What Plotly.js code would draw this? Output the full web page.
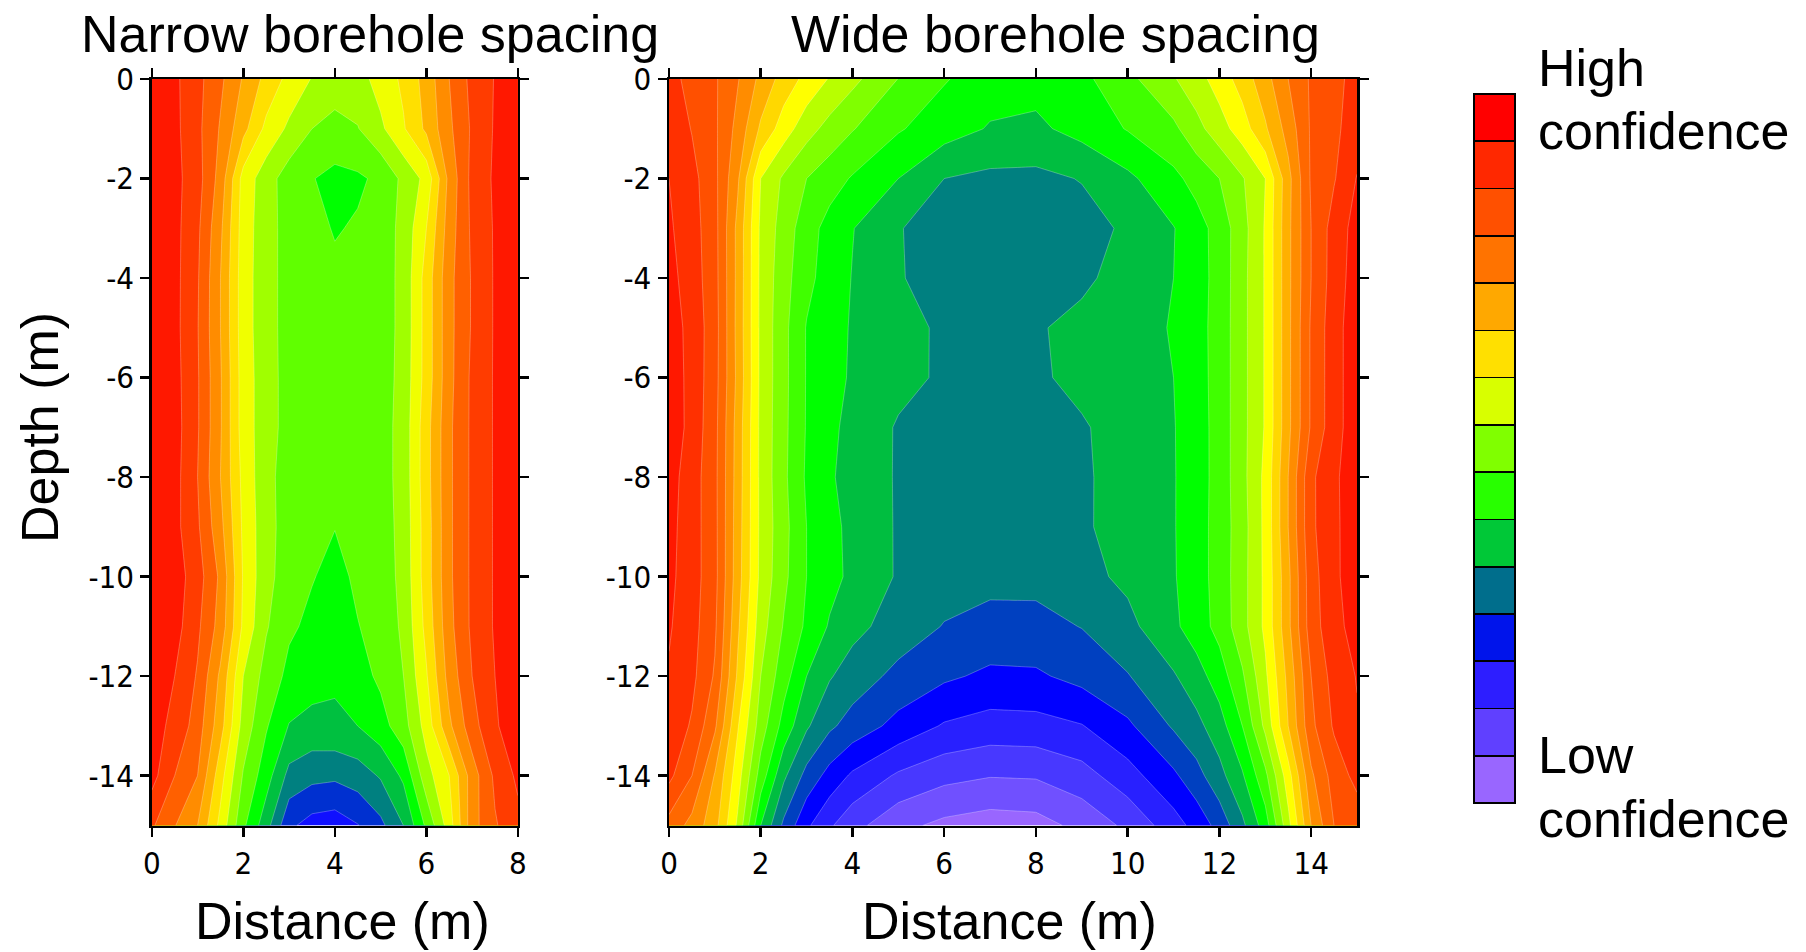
<!DOCTYPE html>
<html>
<head>
<meta charset="utf-8">
<script src="https://cdn.plot.ly/plotly-3.0.1.min.js"></script>
<style>
  html, body { margin: 0; padding: 0; background: #ffffff; }
  #chart { width: 1806px; height: 952px; }
</style>
</head>
<body>
<div id="chart"></div>
<script>
// ---------------- DATA ----------------
// Depth rows (m), shared by both panels
const depths = [0, -1, -2, -3, -4, -5, -6, -7, -8, -9, -10, -11, -12, -13, -14, -15];

// Narrow borehole spacing: distance grid (m) and confidence level values (band index)
const narrowDistance = [0, 0.5, 1, 1.5, 2, 2.5, 3, 3.5, 4, 4.5, 5, 5.5, 6, 6.5, 7, 7.5, 8];
const narrowConfidence = [
  [13.6, 13.2, 12.3, 11.2, 9.9, 8.7, 7.7, 6.95, 6.4, 6.6, 7.4, 8.2, 9.4, 11.0, 12.3, 13.05, 13.4],
  [13.65, 13.25, 12.25, 10.9, 9.3, 7.75, 6.8, 6.0, 5.75, 5.95, 6.8, 7.9, 9.2, 10.8, 12.15, 13.1, 13.5],
  [13.7, 13.3, 12.4, 10.6, 7.6, 6.45, 5.5, 5.05, 4.7, 4.85, 5.2, 6.25, 7.3, 10.3, 12.3, 13.15, 13.6],
  [13.7, 13.3, 12.2, 10.2, 7.5, 6.4, 5.6, 5.3, 4.93, 5.1, 5.45, 6.3, 8.0, 10.5, 12.2, 13.1, 13.6],
  [13.7, 13.3, 12.1, 10.0, 7.45, 6.4, 5.6, 5.35, 5.2, 5.3, 5.5, 6.3, 8.4, 10.7, 12.1, 13.1, 13.6],
  [13.75, 13.3, 12.05, 10.0, 7.45, 6.4, 5.6, 5.35, 5.3, 5.35, 5.5, 6.3, 8.4, 10.7, 12.1, 13.1, 13.6],
  [13.8, 13.35, 12.1, 10.1, 7.5, 6.45, 5.6, 5.35, 5.3, 5.35, 5.5, 6.35, 8.4, 10.7, 12.2, 13.1, 13.6],
  [13.8, 13.4, 12.1, 10.1, 7.5, 6.45, 5.6, 5.35, 5.25, 5.35, 5.55, 6.4, 8.6, 10.8, 12.2, 13.1, 13.6],
  [13.75, 13.35, 12.0, 10.0, 7.7, 6.3, 5.55, 5.3, 5.15, 5.3, 5.55, 6.4, 8.6, 10.8, 12.2, 13.1, 13.6],
  [13.7, 13.3, 12.15, 10.3, 7.8, 6.35, 5.55, 5.25, 5.02, 5.2, 5.5, 6.35, 8.5, 10.8, 12.2, 13.1, 13.6],
  [13.8, 13.5, 12.45, 10.8, 7.9, 6.3, 5.5, 5.05, 4.75, 5.15, 5.45, 6.3, 8.5, 10.8, 12.2, 13.1, 13.6],
  [13.75, 13.4, 12.2, 10.6, 7.8, 6.1, 5.15, 4.8, 4.5, 4.97, 5.3, 6.2, 8.3, 10.7, 12.2, 13.1, 13.6],
  [13.6, 13.0, 11.9, 9.8, 7.0, 5.6, 4.75, 4.4, 4.16, 4.6, 5.2, 6.0, 7.9, 10.4, 12.0, 13.0, 13.5],
  [13.3, 12.8, 11.5, 9.4, 6.6, 5.1, 3.95, 3.7, 3.8, 4.0, 4.6, 5.6, 7.4, 9.8, 11.6, 12.9, 13.5],
  [13.35, 12.0, 11.0, 8.4, 5.9, 4.45, 2.7, 2.3, 2.2, 2.5, 3.1, 4.2, 6.6, 8.0, 10.5, 12.2, 13.2],
  [12.15, 11.05, 10.0, 7.7, 5.2, 3.4, 1.2, 0.6, 0.45, 0.95, 1.75, 3.0, 5.2, 7.5, 10.6, 11.9, 12.7]
];

// Wide borehole spacing: distance grid (m) and confidence level values (band index)
const wideDistance = [0, 0.5, 1, 1.5, 2, 2.5, 3, 3.5, 4, 5, 6, 7, 8, 9, 10, 11, 11.5, 12, 12.5, 13, 13.5, 14, 14.5, 15];
const wideConfidence = [
  [18.3, 17.72, 17.13, 16.07, 14.73, 13.58, 12.71, 11.93, 11.26, 9.98, 9.08, 8.45, 8.35, 8.75, 9.72, 10.91, 11.61, 12.44, 13.44, 14.62, 16.0, 17.14, 17.73, 18.32],
  [18.73, 17.95, 17.17, 15.67, 13.83, 12.5, 11.4, 10.65, 10.06, 9.1, 8.45, 7.92, 7.8, 8.35, 9.06, 9.78, 10.67, 11.57, 12.51, 13.86, 15.4, 17.13, 17.8, 18.47],
  [19.0, 18.32, 17.25, 15.14, 12.0, 10.83, 10.0, 9.44, 8.91, 8.0, 7.0, 6.77, 6.75, 7.05, 7.78, 8.75, 9.35, 10.0, 10.91, 12.0, 14.67, 17.13, 17.92, 19.05],
  [19.14, 18.43, 17.33, 14.71, 11.81, 10.56, 9.44, 8.64, 8.04, 7.05, 6.6, 6.4, 6.4, 6.6, 7.17, 7.96, 8.59, 9.39, 10.63, 12.09, 14.75, 17.0, 18.43, 19.38],
  [19.32, 18.52, 17.36, 14.71, 11.78, 10.39, 9.28, 8.55, 7.96, 7.09, 6.5, 6.3, 6.3, 6.8, 7.4, 8.0, 8.59, 9.35, 10.69, 12.09, 14.75, 17.0, 18.46, 19.5],
  [19.53, 18.65, 17.43, 14.67, 11.78, 10.29, 8.94, 8.39, 7.91, 7.31, 6.85, 6.6, 6.9, 7.28, 7.65, 8.06, 8.63, 9.38, 10.69, 12.09, 14.75, 17.13, 18.6, 19.6],
  [19.6, 18.67, 17.38, 14.73, 11.78, 10.29, 8.94, 8.34, 7.88, 7.3, 6.85, 6.55, 6.85, 7.26, 7.63, 8.0, 8.6, 9.38, 10.69, 12.09, 14.75, 17.13, 18.6, 19.6],
  [19.7, 18.64, 17.31, 14.56, 11.76, 10.26, 8.93, 8.21, 7.72, 6.9, 6.55, 6.4, 6.45, 6.9, 7.42, 7.95, 8.55, 9.38, 10.69, 12.09, 14.75, 17.13, 18.6, 19.6],
  [19.41, 18.48, 17.27, 14.53, 11.76, 10.22, 8.86, 8.11, 7.67, 6.9, 6.5, 6.35, 6.4, 6.85, 7.42, 7.94, 8.54, 9.38, 10.69, 12.25, 15.0, 17.8, 18.82, 19.6],
  [19.3, 18.47, 17.29, 14.47, 11.77, 10.33, 9.0, 8.29, 7.74, 6.9, 6.5, 6.3, 6.35, 6.85, 7.43, 7.94, 8.56, 9.4, 10.59, 12.25, 15.0, 17.8, 18.79, 19.6],
  [19.23, 18.46, 17.31, 14.43, 11.74, 10.25, 9.0, 8.33, 7.77, 6.9, 6.45, 6.28, 6.28, 6.7, 7.21, 7.92, 8.56, 9.4, 10.63, 12.22, 14.75, 17.59, 18.78, 19.6],
  [19.1, 18.38, 17.17, 14.17, 11.44, 9.93, 8.82, 7.9, 7.3, 6.55, 5.95, 5.68, 5.7, 6.03, 6.72, 7.8, 8.5, 9.33, 10.63, 12.22, 14.75, 17.53, 18.66, 19.42],
  [18.9, 18.26, 16.88, 13.83, 11.0, 9.43, 8.0, 7.09, 6.53, 5.72, 5.17, 4.8, 4.85, 5.31, 5.94, 6.9, 7.57, 8.5, 9.86, 11.8, 14.29, 17.0, 18.4, 19.05],
  [18.7, 17.88, 16.17, 13.08, 10.5, 8.63, 7.14, 6.18, 5.6, 4.67, 3.9, 3.6, 3.65, 3.95, 4.81, 6.12, 6.71, 7.56, 9.0, 11.25, 14.0, 16.75, 18.13, 18.9],
  [18.25, 17.0, 14.92, 12.44, 9.56, 7.2, 5.67, 4.64, 3.83, 2.85, 2.3, 2.05, 2.1, 2.6, 3.59, 4.81, 5.64, 6.67, 7.88, 9.75, 12.56, 15.81, 17.44, 18.3],
  [16.65, 15.67, 14.36, 11.81, 8.0, 5.79, 4.18, 3.14, 2.34, 1.28, 0.75, 0.5, 0.6, 1.29, 2.22, 3.57, 4.35, 5.36, 6.77, 8.5, 11.67, 15.0, 17.0, 17.4]
];

// Band colours, lowest confidence band first
const narrowBandColors = ['#1010FF', '#0030D0', '#008080', '#00C040', '#00FF00', '#60FF00', '#A0FF00',
  '#F0FF00', '#FFE000', '#FFB000', '#FF8C00', '#FF6000', '#FF3C00', '#FF1800'];
const wideBandColors = ['#9966FF', '#7050FF', '#4838FF', '#2820FF', '#0000FF', '#0040C0', '#008080',
  '#00BE40', '#00FF00', '#40FF00', '#80FF00', '#B8FF00', '#FFFF00', '#FFD800', '#FFB000', '#FF8C00',
  '#FF6800', '#FF5000', '#FF3000', '#FF1800'];

// Legend key boxes, top (high confidence) to bottom (low confidence)
const legendColors = ['#FF0000', '#FF2800', '#FF5000', '#FF7300', '#FFA800', '#FFE000', '#D8FF00',
  '#80FF00', '#28FF00', '#00C837', '#006E8C', '#0014EB', '#2D1EFF', '#6040FF', '#9966FF'];

// Tick values and labels
const depthTickVals = [0, -2, -4, -6, -8, -10, -12, -14];
const depthTickText = ['0', '-2', '-4', '-6', '-8', '-10', '-12', '-14'];
const narrowTickVals = [0, 2, 4, 6, 8];
const wideTickVals = [0, 2, 4, 6, 8, 10, 12, 14];

// Text
const titles = ['Narrow borehole spacing', 'Wide borehole spacing'];
const yTitle = 'Depth (m)';
const xTitle = 'Distance (m)';
const legendHigh = ['High', 'confidence'];
const legendLow = ['Low', 'confidence'];

// ---------------- HELPERS ----------------
function stepScale(colors) {
  const n = colors.length - 1;
  const s = [];
  for (let k = 0; k < n; k++) {
    const a = k / n;
    const b = (k === n - 1) ? 0.995 : (k + 1) / n;
    s.push([a, colors[k]]);
    s.push([b, colors[k]]);
  }
  s.push([0.995, colors[n]]);
  s.push([1, colors[n]]);
  return s;
}

const W = 1806, H = 952;
const FONT = 'Liberation Sans, Arial, Helvetica, sans-serif';
const TICKFONT = 'Liberation Sans Narrow, DejaVu Sans Condensed, Arial Narrow, sans-serif';
const px = v => v / W;
const py = v => 1 - v / H;

const plotTop = 79, plotBottom = 825.5;

function axisStyle(extra) {
  return Object.assign({
    showline: true, linecolor: '#000', linewidth: 2.5, mirror: 'ticks',
    ticks: 'outside', ticklen: 9, tickwidth: 2.5, tickcolor: '#000',
    showgrid: false, zeroline: false, fixedrange: true,
    tickfont: {family: TICKFONT, size: 31, color: '#000'}
  }, extra);
}

// ---------------- TRACES ----------------
const traces = [];
traces.push({
  type: 'contour', x: narrowDistance, y: depths, z: narrowConfidence,
  xaxis: 'x', yaxis: 'y', autocontour: false,
  contours: {start: 1, end: narrowBandColors.length - 1, size: 1, coloring: 'fill', showlines: true},
  line: {width: 0.6, color: 'rgba(255,255,255,0.45)', smoothing: 0},
  colorscale: stepScale(narrowBandColors), showscale: false, hoverinfo: 'skip'
});
traces.push({
  type: 'contour', x: wideDistance, y: depths, z: wideConfidence,
  xaxis: 'x2', yaxis: 'y2', autocontour: false,
  contours: {start: 1, end: wideBandColors.length - 1, size: 1, coloring: 'fill', showlines: true},
  line: {width: 0.6, color: 'rgba(255,255,255,0.45)', smoothing: 0},
  colorscale: stepScale(wideBandColors), showscale: false, hoverinfo: 'skip'
});
// Legend key: stacked boxes, bottom box first
legendColors.slice().reverse().forEach(c => {
  traces.push({
    type: 'bar', x: ['key'], y: [1], width: 1,
    xaxis: 'x3', yaxis: 'y3',
    marker: {color: c, line: {color: '#000', width: 1.6}},
    hoverinfo: 'skip', showlegend: false
  });
});

// ---------------- LAYOUT ----------------
const ann = [];
const big = {family: FONT, size: 52, color: '#000'};
ann.push({text: titles[0], x: px(370), y: py(34), xref: 'paper', yref: 'paper', xanchor: 'center', yanchor: 'middle', showarrow: false, font: big});
ann.push({text: titles[1], x: px(1055), y: py(34), xref: 'paper', yref: 'paper', xanchor: 'center', yanchor: 'middle', showarrow: false, font: big});
ann.push({text: yTitle, x: px(40), y: py(428), xref: 'paper', yref: 'paper', xanchor: 'center', yanchor: 'middle', textangle: -90, showarrow: false, font: big});
ann.push({text: xTitle, x: px(342.5), y: py(921), xref: 'paper', yref: 'paper', xanchor: 'center', yanchor: 'middle', showarrow: false, font: big});
ann.push({text: xTitle, x: px(1009), y: py(921), xref: 'paper', yref: 'paper', xanchor: 'center', yanchor: 'middle', showarrow: false, font: big});
ann.push({text: legendHigh[0], x: px(1536), y: py(68), xref: 'paper', yref: 'paper', xanchor: 'left', yanchor: 'middle', showarrow: false, font: big});
ann.push({text: legendHigh[1], x: px(1536), y: py(131), xref: 'paper', yref: 'paper', xanchor: 'left', yanchor: 'middle', showarrow: false, font: big});
ann.push({text: legendLow[0], x: px(1536), y: py(755), xref: 'paper', yref: 'paper', xanchor: 'left', yanchor: 'middle', showarrow: false, font: big});
ann.push({text: legendLow[1], x: px(1536), y: py(819), xref: 'paper', yref: 'paper', xanchor: 'left', yanchor: 'middle', showarrow: false, font: big});

const layout = {
  width: W, height: H,
  margin: {l: 0, r: 0, t: 0, b: 0, pad: 0},
  paper_bgcolor: '#ffffff', plot_bgcolor: '#ffffff',
  showlegend: false, barmode: 'stack', bargap: 0,
  font: {family: FONT, color: '#000'},
  xaxis: axisStyle({domain: [px(151.8), px(517.9)], range: [0, 8], anchor: 'y', tickvals: narrowTickVals}),
  yaxis: axisStyle({domain: [py(plotBottom), py(plotTop)], range: [-15, 0], anchor: 'x', tickvals: depthTickVals, ticktext: depthTickText}),
  xaxis2: axisStyle({domain: [px(669), px(1357)], range: [0, 15], anchor: 'y2', tickvals: wideTickVals}),
  yaxis2: axisStyle({domain: [py(plotBottom), py(plotTop)], range: [-15, 0], anchor: 'x2', tickvals: depthTickVals, ticktext: depthTickText}),
  xaxis3: {domain: [px(1473), px(1516)], range: [-0.53, 0.53], anchor: 'y3', visible: false, fixedrange: true},
  yaxis3: {domain: [py(805), py(92)], range: [-0.04, legendColors.length + 0.04], anchor: 'x3', visible: false, fixedrange: true},
  annotations: ann
};

Plotly.newPlot('chart', traces, layout, {staticPlot: true, displayModeBar: false});
</script>
</body>
</html>
